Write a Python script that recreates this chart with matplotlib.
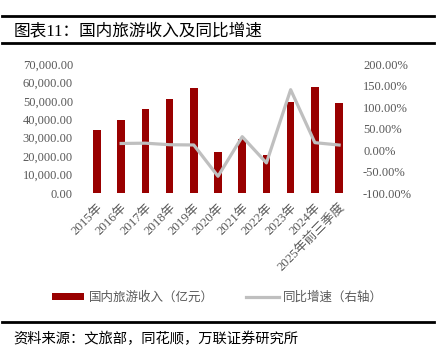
import matplotlib.pyplot as plt
from matplotlib.lines import Line2D
from matplotlib.ticker import FuncFormatter
import numpy as np

# 字体：数字用衬线体，中文回退到 Noto Sans CJK
fonts = ['Liberation Serif', 'Noto Sans CJK SC']
plt.rcParams['font.family'] = fonts
plt.rcParams['axes.unicode_minus'] = False

# 数据
years = ['2015年', '2016年', '2017年', '2018年', '2019年', '2020年',
         '2021年', '2022年', '2023年', '2024年', '2025年前三季度']
revenue = [34195, 39390, 45661, 51278, 57251, 22286, 29191, 20444, 49133, 57500, 48600]
growth = [np.nan, 15.2, 15.9, 12.3, 11.7, -61.1, 31.0, -30.0, 140.3, 17.1, 11.6]

bar_color = '#990000'
line_color = '#BFBFBF'
text_gray = '#595959'

fig = plt.figure(figsize=(4.44, 3.48), dpi=100)
ax = fig.add_axes([0.191, 0.4454, 0.600, 0.3706])
ax2 = ax.twinx()

x = np.arange(len(years))
ax.bar(x, revenue, width=0.31, color=bar_color, zorder=2)
ax2.plot(x, growth, color=line_color, linewidth=2.3, zorder=3)

ax.set_xlim(-0.5, len(years) - 0.5)
ax.set_ylim(0, 70000)
ax.set_yticks(np.arange(0, 70001, 10000))
ax.yaxis.set_major_formatter(FuncFormatter(lambda v, p: f'{v:,.2f}'))
ax2.set_ylim(-100, 200)
ax2.set_yticks(np.arange(-100, 201, 50))
ax2.yaxis.set_major_formatter(FuncFormatter(lambda v, p: f'{v:.2f}%'))

ax.set_xticks(x)
ax.set_xticklabels(years, rotation=45, ha='right', rotation_mode='anchor')

for a in (ax, ax2):
    for s in a.spines.values():
        s.set_visible(False)
    a.tick_params(length=0, labelsize=9, labelcolor=text_gray)
ax.tick_params(axis='y', pad=8.5)
ax2.tick_params(axis='y', pad=8.5)
ax.tick_params(axis='x', pad=6, labelsize=9.3)

# 图例
handles = [ax.patches[0], Line2D([0], [0], color=line_color, linewidth=2.3)]
labels = ['国内旅游收入（亿元）', '同比增速（右轴）']
fig.legend(handles, labels, loc='center', bbox_to_anchor=(0.49, 0.144), ncol=2,
           frameon=False, fontsize=9, labelcolor=text_gray, handlelength=2.6,
           handleheight=0.55, columnspacing=2.6, handletextpad=0.35)

# 标题和分隔线
for yy in (0.953, 0.876, 0.074):
    fig.add_artist(Line2D([0.005, 0.977], [yy, yy], color='black', linewidth=2.0,
                          transform=fig.transFigure))
fig.text(0.03, 0.91, '图表11：国内旅游收入及同比增速', fontsize=12, va='center', ha='left')
fig.text(0.03, 0.026, '资料来源：文旅部，同花顺，万联证券研究所', fontsize=10.3,
         va='center', ha='left', style='italic')

fig.savefig('out.png', dpi=100)
